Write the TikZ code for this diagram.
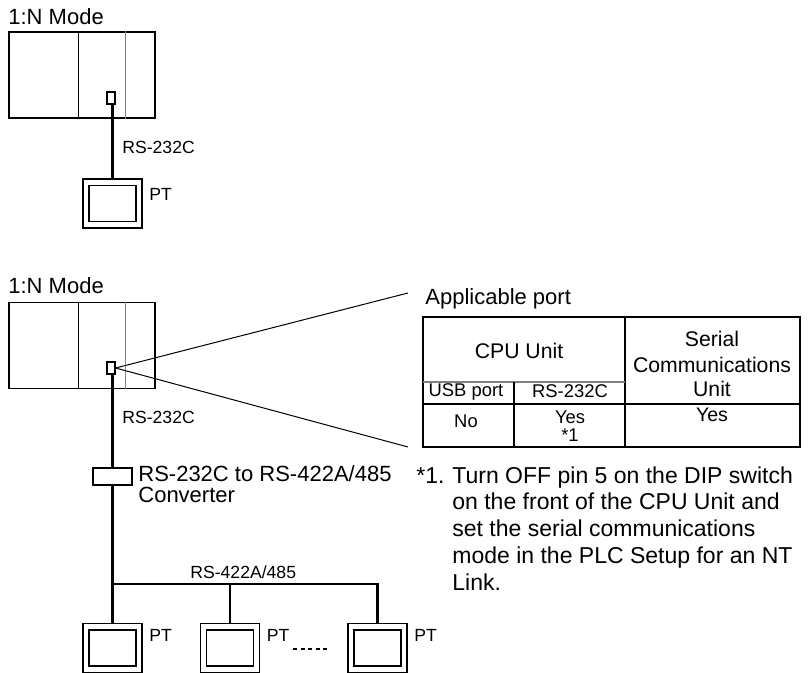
\documentclass[tikz,border=0pt]{standalone}
\usepackage{fontspec}
\setmainfont{Liberation Sans}
\usetikzlibrary{positioning, calc}

\tikzset{
  plcbox/.style={draw, line width=0.75pt, minimum width=73pt, minimum height=43pt, inner sep=0pt},
  unitline/.style={line width=0.75pt},
  portbox/.style={draw, line width=0.6pt, minimum width=4pt, minimum height=6pt, inner sep=0pt},
  ptframe/.style={draw, line width=0.75pt, minimum width=29.5pt, minimum height=24.5pt, inner sep=0pt},
  ptscreen/.style={draw, line width=0.75pt, minimum width=23.5pt, minimum height=18pt, inner sep=0pt},
  convbox/.style={draw, line width=0.6pt, minimum width=19.5pt, minimum height=8.5pt, inner sep=0pt},
  cable/.style={line width=1.2pt},
  callout/.style={line width=0.5pt},
  tblline/.style={line width=0.65pt},
  lbl/.style={font=\fontsize{8.8}{10}\selectfont, anchor=base west, inner sep=0pt},
  biglbl/.style={font=\fontsize{11}{13}\selectfont, anchor=base west, inner sep=0pt},
  headcell/.style={font=\fontsize{10.6}{12}\selectfont, anchor=base, inner sep=0pt},
  smallcell/.style={font=\fontsize{9.2}{11}\selectfont, anchor=base, inner sep=0pt},
  notetxt/.style={font=\fontsize{11.5}{13}\selectfont, anchor=base west, inner sep=0pt},
}

\begin{document}
\begin{tikzpicture}[x=0.5pt, y=-0.5pt]
  \useasboundingbox (0,0) rectangle (808,673);

  % 1:N mode with one PT
  \node[biglbl] (modeA) at (8,25) {1:N Mode};
  \node[plcbox] (plcA) at (82,75) {};
  \draw[unitline] ($(plcA.north west)+(70,0)$) -- ($(plcA.south west)+(70,0)$);
  \draw[unitline, gray] ($(plcA.north west)+(117,0)$) -- ($(plcA.south west)+(117,0)$);
  \node[portbox] (portA) at (111,98) {};
  \node[ptframe] (ptA) at (112.5,203.5) {};
  \node[ptscreen] (ptAscr) at (ptA.center) {};
  \draw[cable] (portA.south -| ptA.north) -- (ptA.north);
  \node[lbl] (cableA) at (122,154) {RS-232C};
  \node[lbl] (ptAlbl) at (149,201) {PT};

  % 1:N mode with several PTs
  \node[biglbl] (modeB) at (8,294) {1:N Mode};
  \node[plcbox] (plcB) at (82,345.5) {};
  \draw[unitline] ($(plcB.north west)+(70,0)$) -- ($(plcB.south west)+(70,0)$);
  \draw[unitline, gray] ($(plcB.north west)+(117,0)$) -- ($(plcB.south west)+(117,0)$);
  \node[portbox] (portB) at (111,368) {};
  \node[lbl] (cableB) at (122,423) {RS-232C};
  \node[convbox] (convB) at (112.5,476.5) {};
  \node[biglbl] (convlbl1) at (138,481) {RS-232C to RS-422A/485};
  \node[biglbl] (convlbl2) at (138,502) {Converter};
  \foreach \n/\xx in {1/112.5, 2/230, 3/377.5} {
    \node[ptframe] (ptB\n) at (\xx,648) {};
    \node[ptscreen] (ptB\n scr) at (ptB\n.center) {};
    \node[lbl] (ptB\n lbl) at (\xx+36.5,641) {PT};
  }
  \coordinate (busL) at (112.5,584);
  \draw[cable] (portB.south -| convB.north) -- (convB.north);
  \draw[cable] (convB.south) -- (ptB1.north);
  \draw[cable] (busL) -| (ptB3.north);
  \draw[cable] (ptB2.north |- busL) -- (ptB2.north);
  \node[lbl] (buslbl) at (190,578) {RS-422A/485};
  \draw[line width=0.55pt, dash pattern=on 2pt off 1.8pt] (293,649) -- (330,649);

  % callout to the port table
  \coordinate (calloutT) at (408,293);
  \coordinate (calloutB) at (408,447);
  \draw[callout] (portB.east) -- (calloutT);
  \draw[callout] (portB.east) -- (calloutB);
  \node[biglbl] (tbltitle) at (425,305) {Applicable port};

  % port table
  \draw[tblline] (423,317) rectangle (800,447);
  \draw[tblline] (625,317) -- (625,447);
  \draw[tblline, gray] (423,382) -- (625,382);
  \draw[tblline] (423,404) -- (800,404);
  \draw[tblline] (514,382) -- (514,447);
  \node[headcell] (cpuhd) at (519,358) {CPU Unit};
  \node[headcell] (schd1) at (712,347) {Serial};
  \node[headcell] (schd2) at (712,372) {Communications};
  \node[headcell] (schd3) at (712,397) {Unit};
  \node[smallcell] (usbhd) at (466,397) {USB port};
  \node[smallcell] (rshd) at (570,398) {RS-232C};
  \node[smallcell] (usbval) at (466,428) {No};
  \node[smallcell] (rsval) at (570,423) {Yes};
  \node[smallcell] (rsnote) at (570,441) {*1};
  \node[smallcell, font=\fontsize{9.8}{11}\selectfont] (scval) at (712,422) {Yes};

  % footnote
  \node[notetxt] (notemark) at (416,483) {*1.};
  \foreach \ln [count=\i] in {Turn OFF pin 5 on the DIP switch, on the front of the CPU Unit and,
      set the serial communications, mode in the PLC Setup for an NT, Link.} {
    \node[notetxt] (note\i) at (452,{483+26.75*(\i-1)}) {\ln};
  }
\end{tikzpicture}
\end{document}
